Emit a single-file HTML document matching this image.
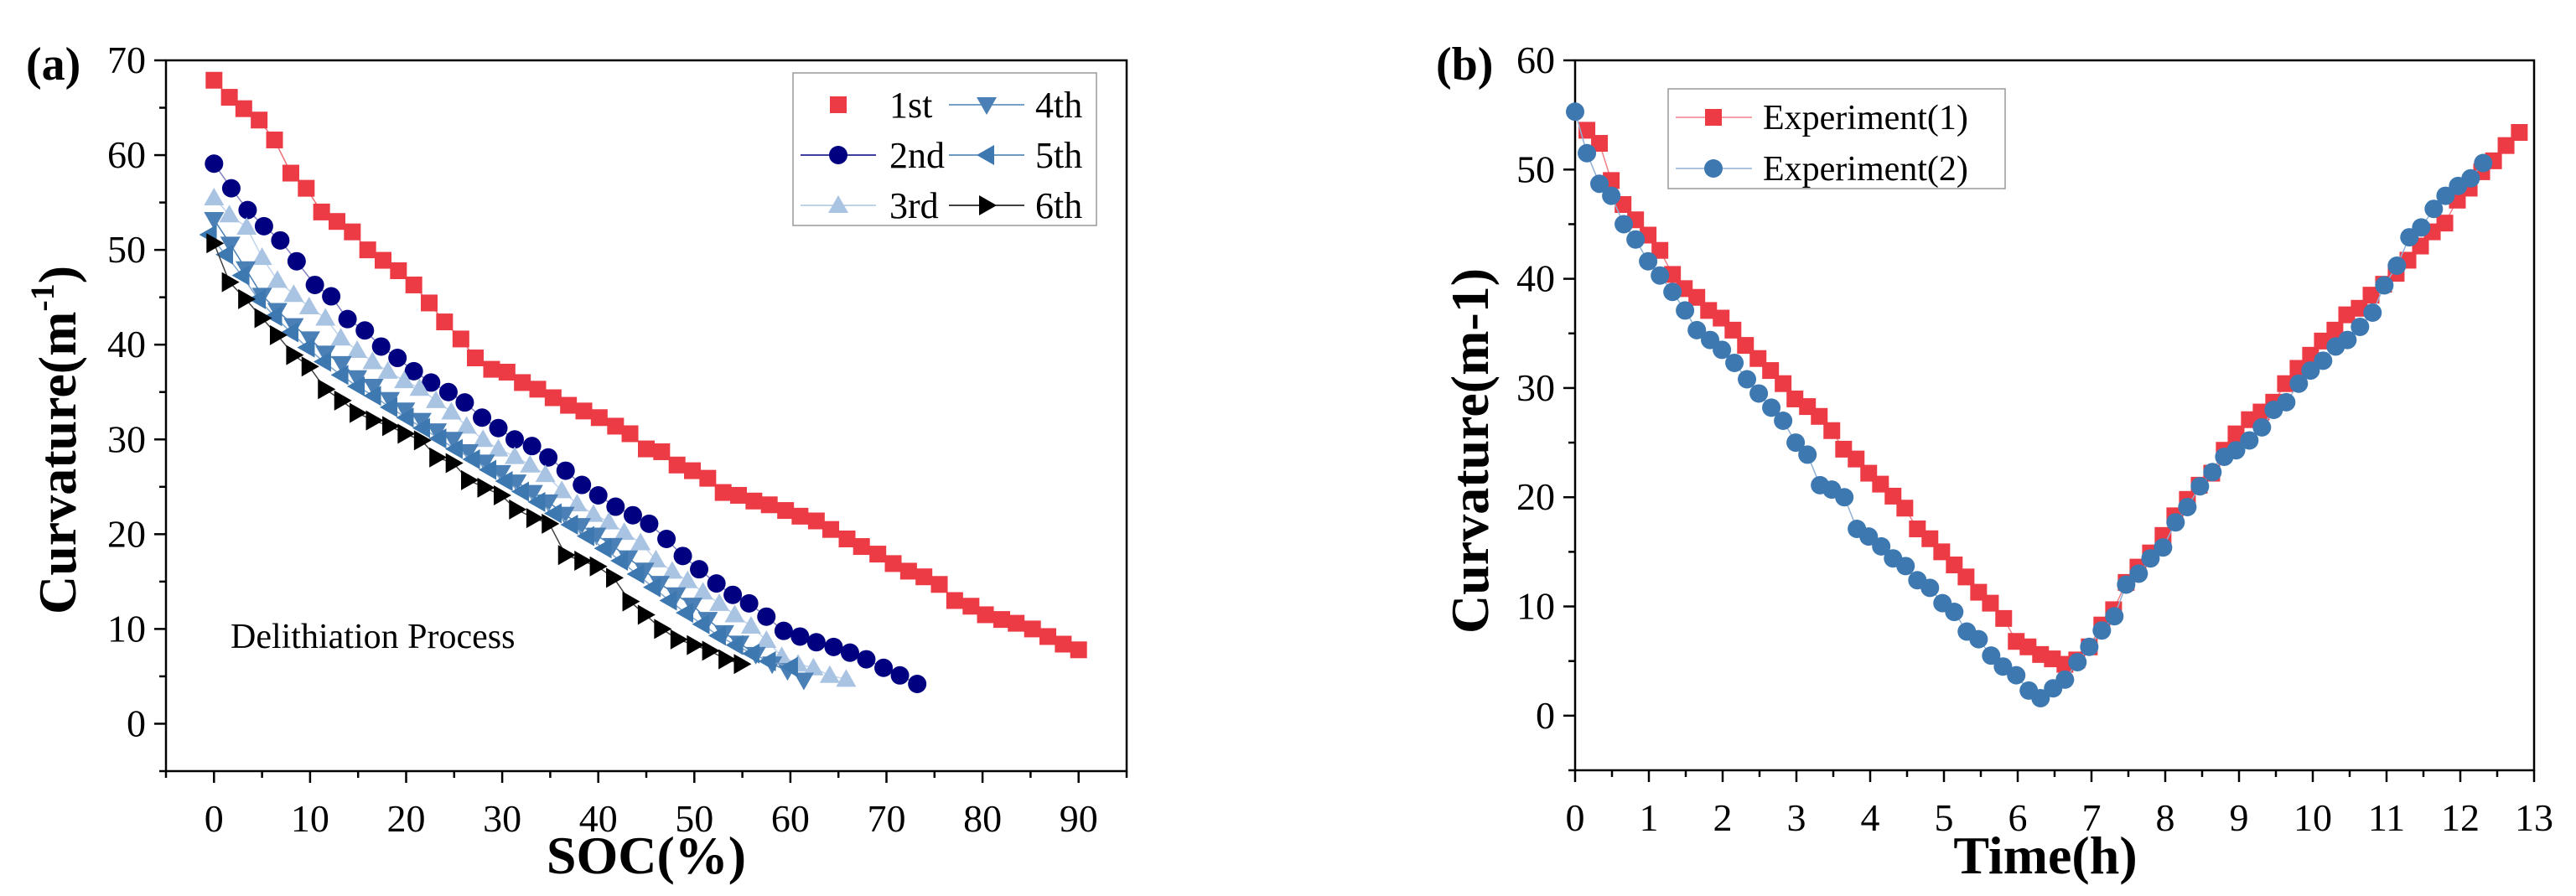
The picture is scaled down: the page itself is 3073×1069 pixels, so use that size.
<!DOCTYPE html>
<html><head><meta charset="utf-8"><style>
html,body{margin:0;padding:0;background:#fff;}
svg{display:block;font-family:"Liberation Serif",serif;}
</style></head><body>
<svg id="fig" width="3073" height="1069" viewBox="0 0 3073 1069"></svg>
<script>
// ---- Chart (a) data ----
const aX1=[0,1.6,3.1,4.7,6.3,8,9.6,11.2,12.8,14.4,16,17.6,19.2,20.8,22.4,24,25.7,27.2,28.9,30.5,32.1,33.7,35.3,36.9,38.5,40.1,41.8,43.3,45,46.6,48.2,49.8,51.4,53,54.6,56.2,57.8,59.5,61,62.7,64.2,65.9,67.4,69.1,70.7,72.3,73.9,75.5,77.1,78.8,80.3,82,83.5,85.2,86.8,88.4,90];
const aY1=[67.9,66.1,64.9,63.7,61.6,58.1,56.5,54,53,51.9,50,48.9,47.8,46.3,44.4,42.4,40.6,38.6,37.4,37.1,36,35.3,34.4,33.6,33,32.3,31.4,30.6,29,28.7,27.3,26.7,25.9,24.4,24.1,23.5,23.1,22.5,21.9,21.4,20.5,19.5,18.7,17.9,16.9,16.1,15.5,14.7,13,12.4,11.5,11,10.6,10,9.2,8.4,7.8];
const aX2=[0,1.8,3.5,5.2,6.9,8.6,10.5,12.2,13.9,15.7,17.4,19.1,20.8,22.6,24.4,26.1,27.9,29.6,31.3,33.1,34.8,36.6,38.3,40,41.8,43.6,45.3,47.1,48.8,50.5,52.3,54,55.7,57.5,59.3,61,62.7,64.5,66.2,67.9,69.7,71.4,73.2];
const aY2=[59.1,56.5,54.2,52.5,51,48.8,46.3,45.1,42.7,41.5,39.8,38.6,37.2,36,35,33.9,32.3,31.2,30,29.3,28.1,26.7,25.2,24.1,22.9,22,21.1,19.5,17.7,16.3,14.8,13.6,12.7,11.3,9.8,9.2,8.6,8.1,7.5,6.8,5.9,5.1,4.2];
const aX3=[0,1.6,3.4,5,6.6,8.3,9.9,11.6,13.2,14.9,16.5,18.1,19.8,21.4,23.1,24.7,26.3,28,29.6,31.3,32.9,34.5,36.2,37.8,39.5,41.1,42.7,44.4,46,47.7,49.3,50.9,52.6,54.2,55.9,57.5,59.1,60.8,62.4,64.1,65.8];
const aY3=[55.5,53.7,52.4,49.2,46.8,45.3,44,42.8,40.7,39.4,38.2,37.2,36.2,35.4,34.1,32.9,31.4,30,29,28.2,27.3,26.3,24.6,23.2,22.1,21.3,20.2,19.1,17.3,16.1,15.1,13.9,12.7,11.5,10.3,8.8,7.1,6.3,5.9,5.1,4.7];
const aX4=[0,1.7,3.3,5,6.6,8.3,10,11.6,13.3,14.9,16.6,18.3,19.9,21.6,23.2,24.9,26.5,28.2,29.9,31.5,33.2,34.8,36.5,38.2,39.8,41.5,43.1,44.8,46.4,48.1,49.8,51.4,53.1,54.7,56.4,58.1,59.7,61.4];
const aY4=[53.2,50.6,48,45.2,43.6,42,40.6,39.1,38,36.5,35.6,34.2,33.1,32,30.9,30,28.7,27.6,26.5,25.5,24.4,23.4,22.1,20.9,19.9,18.8,17.5,16.2,14.8,13.6,12.5,11,9.6,8.5,7.3,6.3,5.6,4.6];
const aX5=[-0.5,1.2,2.9,4.6,6.3,8,9.7,11.4,13.2,14.9,16.6,18.3,20,21.7,23.4,25.1,26.9,28.6,30.3,32,33.7,35.4,37.1,38.8,40.6,42.3,44,45.7,47.4,49.1,50.8,52.5,54.3,56,57.7,60];
const aY5=[51.6,49.5,47.3,44.8,43,41.3,39.7,38.2,36.8,35.6,34.6,33.4,32.3,31.2,30.1,29,27.9,26.8,25.6,24.5,23.4,22.2,21,19.8,18.5,17.2,15.8,14.4,13,11.7,10.5,9.3,8.3,7.4,6.6,6];
const aX6=[0,1.6,3.3,5,6.6,8.3,9.9,11.6,13.3,14.9,16.6,18.3,19.9,21.6,23.2,24.9,26.5,28.2,29.9,31.5,33.3,34.9,36.6,38.3,39.9,41.6,43.3,44.9,46.6,48.3,50,51.6,53.3,54.9];
const aY6=[50.7,46.6,44.8,42.8,41,38.9,37.7,35.3,34.1,32.8,32,31.4,30.6,29.9,28.1,27.5,25.7,24.9,24.1,22.6,21.7,21.1,17.8,17.2,16.6,15.4,12.9,11.5,10,8.9,8.3,7.7,6.8,6.3];
const aXTicks=[0,10,20,30,40,50,60,70,80,90];
const aYTicks=[0,10,20,30,40,50,60,70];
// ---- Chart (b) data ----
const bX1=[0.16,0.33,0.49,0.65,0.82,0.99,1.15,1.32,1.48,1.65,1.81,1.98,2.14,2.31,2.48,2.65,2.82,2.98,3.15,3.31,3.48,3.64,3.81,3.98,4.14,4.31,4.47,4.64,4.81,4.97,5.14,5.3,5.47,5.63,5.81,5.98,6.14,6.31,6.47,6.64,6.8,6.97,7.14,7.3,7.47,7.63,7.8,7.97,8.13,8.3,8.46,8.63,8.8,8.96,9.14,9.3,9.47,9.63,9.8,9.97,10.13,10.3,10.46,10.63,10.79,10.96,11.13,11.29,11.46,11.62,11.79,11.96,12.12,12.29,12.45,12.62,12.8];
const bY1=[53.6,52.4,49,46.8,45.4,44,42.6,40.4,39.1,38.3,37.1,36.4,35.3,33.9,32.7,31.6,30.4,29,28.3,27.4,26.1,24.4,23.5,22.2,21.2,20.1,19,17.1,16.2,15,13.8,12.7,11.3,10.3,8.9,6.8,6.3,5.6,5.2,4.7,5.1,6.3,8.3,9.7,12.2,13.6,14.9,16.5,18.3,19.8,21.1,22.2,24.3,25.8,27.1,27.8,28.7,30.4,31.8,33,34.3,35.3,36.7,37.3,38.5,39.5,40.5,41.7,43,44.3,45.1,47.2,48.3,49.8,50.8,52.2,53.4];
const bX2=[0,0.16,0.33,0.49,0.66,0.82,0.99,1.15,1.32,1.49,1.65,1.83,1.99,2.16,2.33,2.49,2.66,2.82,2.99,3.15,3.32,3.48,3.65,3.82,3.98,4.15,4.31,4.48,4.64,4.81,4.98,5.14,5.31,5.47,5.64,5.8,5.98,6.15,6.31,6.48,6.64,6.81,6.97,7.14,7.31,7.47,7.64,7.8,7.97,8.14,8.3,8.47,8.64,8.8,8.96,9.14,9.31,9.47,9.64,9.81,9.97,10.14,10.31,10.47,10.64,10.81,10.97,11.14,11.31,11.47,11.64,11.8,11.97,12.14,12.31];
const bY2=[55.3,51.5,48.7,47.6,45,43.6,41.6,40.3,38.8,37.1,35.3,34.4,33.5,32.3,30.8,29.5,28.2,27,25,23.9,21.1,20.7,20,17.1,16.4,15.5,14.4,13.7,12.4,11.7,10.3,9.5,7.7,7,5.5,4.5,3.7,2.3,1.6,2.5,3.3,4.9,6.3,7.8,9.1,12,13,14.4,15.4,17.7,19.1,21,22.3,23.7,24.3,25.2,26.4,28,28.7,30.4,31.6,32.5,33.8,34.4,35.6,36.9,39.4,41.2,43.8,44.7,46.4,47.6,48.5,49.2,50.6];
const bXTicks=[0,1,2,3,4,5,6,7,8,9,10,11,12,13];
const bYTicks=[0,10,20,30,40,50,60];

const NS="http://www.w3.org/2000/svg";
const svg=document.getElementById('fig');
function mk(tag,attrs,parent,name,inter){
  const e=document.createElementNS(NS,tag);
  for(const k in attrs)e.setAttribute(k,attrs[k]);
  
  
  (parent||svg).appendChild(e);return e;
}
function txt(x,y,s,attrs,name,parent){
  const t=mk('text',Object.assign({x:x,y:y},attrs),parent,name,false);t.textContent=s;return t;
}
function marker(g,type,x,y,color,name){
  const s=10;
  if(type==='square')return mk('rect',{x:x-s,y:y-s,width:2*s,height:2*s,fill:color},g,name,false);
  if(type==='circle')return mk('circle',{cx:x,cy:y,r:11,fill:color},g,name,false);
  let pts;
  if(type==='up')pts=[[x,y-12],[x-12,y+9],[x+12,y+9]];
  if(type==='down')pts=[[x,y+12],[x-12,y-9],[x+12,y-9]];
  if(type==='left')pts=[[x-12,y],[x+9,y-12],[x+9,y+12]];
  if(type==='right')pts=[[x+12,y],[x-9,y-12],[x-9,y+12]];
  return mk('polygon',{points:pts.map(p=>p.join(',')).join(' '),fill:color},g,name,false);
}
function axes(cfg){
  const g=mk('g',{},svg,cfg.name,false);
  const sx=v=>cfg.L+(v-cfg.x0)/(cfg.x1-cfg.x0)*(cfg.R-cfg.L);
  const sy=v=>cfg.B-(v-cfg.y0)/(cfg.y1-cfg.y0)*(cfg.B-cfg.T);
  mk('rect',{x:cfg.L,y:cfg.T,width:cfg.R-cfg.L,height:cfg.B-cfg.T,fill:'none',stroke:'#000','stroke-width':2.5},g,'plot-frame',false);
  const xt=mk('g',{},g,'x-axis',false);
  for(let v=cfg.xm0;v<=cfg.x1+1e-9;v+=cfg.xminor){
    const major=cfg.xticks.some(t=>Math.abs(t-v)<1e-6);
    mk('line',{x1:sx(v),x2:sx(v),y1:cfg.B,y2:cfg.B+(major?14:8),stroke:'#000','stroke-width':2.5},xt,'x-tick',false);
  }
  cfg.xticks.forEach(v=>txt(sx(v),cfg.B+72,String(v),{'font-size':46,'text-anchor':'middle'},'x-tick-label',xt));
  const yt=mk('g',{},g,'y-axis',false);
  for(let v=cfg.y0;v<=cfg.y1+1e-9;v+=cfg.yminor){
    const major=cfg.yticks.some(t=>Math.abs(t-v)<1e-6);
    mk('line',{x1:cfg.L,x2:cfg.L-(major?14:8),y1:sy(v),y2:sy(v),stroke:'#000','stroke-width':2.5},yt,'y-tick',false);
  }
  cfg.yticks.forEach(v=>txt(cfg.L-24,sy(v)+15,String(v),{'font-size':46,'text-anchor':'end'},'y-tick-label',yt));
  return {g,sx,sy};
}
function series(ax,xs,ys,type,color,lineColor,name){
  const g=mk('g',{},ax.g,name,false);
  mk('polyline',{points:xs.map((x,i)=>ax.sx(x)+','+ax.sy(ys[i])).join(' '),fill:'none',stroke:lineColor,'stroke-width':1.5},g,name+'-line',false);
  xs.forEach((x,i)=>marker(g,type,ax.sx(x),ax.sy(ys[i]),color,name+'-point'));
}
// chart a
const A=axes({name:'chart-a',L:198,R:1344,T:72,B:920,x0:-5,x1:95,y0:-5,y1:70,xm0:-5,xminor:5,yminor:5,xticks:aXTicks,yticks:aYTicks});
series(A,aX1,aY1,'square','#ec3b45','#ec6b73','series-1st');
series(A,aX2,aY2,'circle','#000080','#8080c0','series-2nd');
series(A,aX3,aY3,'up','#a9c3e2','#c0d4ec','series-3rd');
series(A,aX4,aY4,'down','#4a80b6','#4a80b6','series-4th');
series(A,aX5,aY5,'left','#3d78b0','#7fa5cc','series-5th');
series(A,aX6,aY6,'right','#000000','#444','series-6th');
txt(31,95,'(a)',{'font-size':56,'font-weight':'bold'},'panel-label-a');
txt(771,1042,'SOC(%)',{'font-size':64,'font-weight':'bold','text-anchor':'middle'},'x-axis-title-a');
const ya=txt(0,0,'Curvature(m',{'font-size':64,'font-weight':'bold','text-anchor':'middle',transform:'translate(90,525) rotate(-90)'},'y-axis-title-a');
const sup=document.createElementNS(NS,'tspan');sup.setAttribute('font-size','40');sup.setAttribute('dy','-26');sup.textContent='-1';
ya.appendChild(sup);
const cl=document.createElementNS(NS,'tspan');cl.setAttribute('dy','26');cl.textContent=')';
ya.appendChild(cl);
txt(275,773,'Delithiation Process',{'font-size':42},'annotation-delithiation');
// legend a
const la=mk('g',{},svg,'legend-a',false);
mk('rect',{x:946,y:87,width:362,height:182,fill:'#fff',stroke:'#999','stroke-width':1.5},la,'legend-a-box',false);
const legA=[['1st','square','#ec3b45',1000,125,1061,false],['2nd','circle','#000080',1000,185,1061,true],['3rd','up','#a9c3e2',1000,245,1061,true],
 ['4th','down','#4a80b6',1177,125,1235,true],['5th','left','#3d78b0',1177,185,1235,true],['6th','right','#000',1177,245,1235,true]];
legA.forEach(l=>{
  const e=mk('g',{},la,'legend-entry-'+l[0],false);
  if(l[6])mk('line',{x1:l[3]-45,x2:l[3]+45,y1:l[4],y2:l[4],stroke:l[2],'stroke-width':1.5},e,'legend-line',false);
  marker(e,l[1],l[3],l[4],l[2],'legend-marker');
  txt(l[5],l[4]+15,l[0],{'font-size':44},'legend-label',e);
});
// chart b
const B=axes({name:'chart-b',L:1879,R:3023,T:72,B:919,x0:0,x1:13,y0:-5,y1:60,xm0:0,xminor:0.5,yminor:5,xticks:bXTicks,yticks:bYTicks});
series(B,bX1,bY1,'square','#ec3b45','#f08088','series-experiment-1');
series(B,bX2,bY2,'circle','#3d78b0','#8fb0d4','series-experiment-2');
txt(1713,95,'(b)',{'font-size':56,'font-weight':'bold'},'panel-label-b');
txt(2440,1042,'Time(h)',{'font-size':64,'font-weight':'bold','text-anchor':'middle'},'x-axis-title-b');
txt(0,0,'Curvature(m-1)',{'font-size':64,'font-weight':'bold','text-anchor':'middle',transform:'translate(1775,538) rotate(-90)'},'y-axis-title-b');
const lb=mk('g',{},svg,'legend-b',false);
mk('rect',{x:1990,y:106,width:402,height:119,fill:'#fff',stroke:'#999','stroke-width':1.5},lb,'legend-b-box',false);
[['Experiment(1)','square','#ec3b45','#f08088',140],['Experiment(2)','circle','#3d78b0','#8fb0d4',201]].forEach(l=>{
  const e=mk('g',{},lb,'legend-entry-'+l[0],false);
  mk('line',{x1:1999,x2:2090,y1:l[4],y2:l[4],stroke:l[3],'stroke-width':1.5},e,'legend-line',false);
  marker(e,l[1],2044,l[4],l[2],'legend-marker');
  txt(2103,l[4]+14,l[0],{'font-size':42},'legend-label',e);
});
</script>
</body></html>
